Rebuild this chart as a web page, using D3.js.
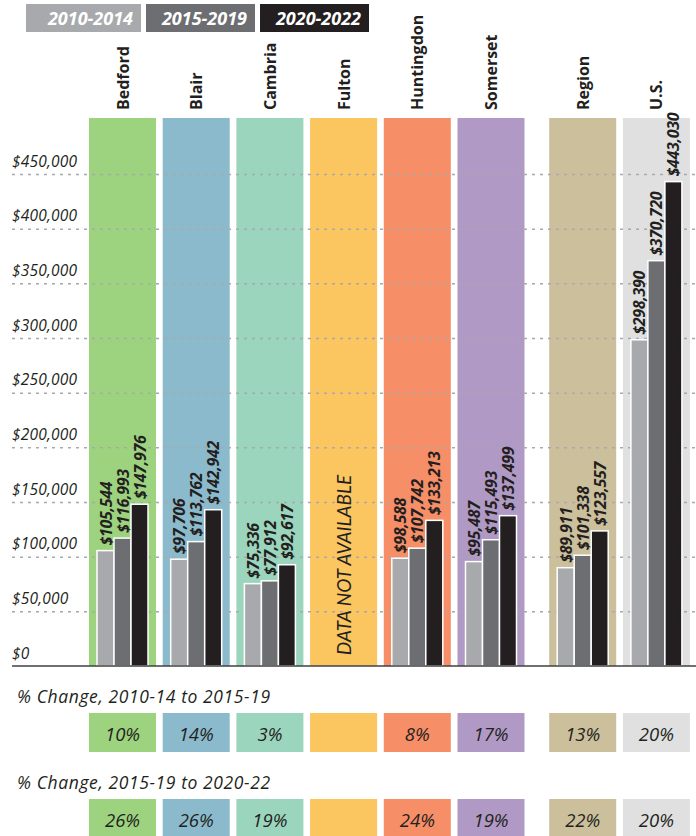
<!DOCTYPE html>
<html>
<head>
<meta charset="utf-8">
<script src="https://cdn.jsdelivr.net/npm/d3@7"></script>
<style>
  body { margin: 0; background: #fff; }
  svg { display: block; }
  .tick line { stroke: #a7a9ac; stroke-width: 1.5; stroke-dasharray: 3,5; }
  .tick text { font-family: 'Open Sans', sans-serif; font-style: italic; font-size: 15.5px; letter-spacing: 0.2px; fill: #231f20; }
</style>
</head>
<body>
<svg id="chart" width="696" height="836"></svg>
<script>
const categories = ['Bedford', 'Blair', 'Cambria', 'Fulton', 'Huntingdon', 'Somerset', 'Region', 'U.S.']
const groups = ['county', 'county', 'county', 'county', 'county', 'county', 'summary', 'summary']
const periods = ['2010-2014', '2015-2019', '2020-2022']
const values2010 = [105544, 97706, 75336, null, 98588, 95487, 89911, 298390]
const values2015 = [116993, 113762, 77912, null, 107742, 115493, 101338, 370720]
const values2020 = [147976, 142942, 92617, null, 133213, 137499, 123557, 443030]
const change1 = ['10%', '14%', '3%', '', '8%', '17%', '13%', '20%']
const change2 = ['26%', '26%', '19%', '', '24%', '19%', '22%', '20%']
const changeTitles = ['% Change, 2010-14 to 2015-19', '% Change, 2015-19 to 2020-22']
const yTicks = [0, 50000, 100000, 150000, 200000, 250000, 300000, 350000, 400000, 450000]

const columnColors = ['#9dd27f', '#8bbacd', '#9bd5bd', '#fbc560', '#f68e67', '#b099c5', '#cbbf9c', '#dfe0df']
const periodColors = ['#a7a9ac', '#6d6e71', '#231f20']

const svg = d3.select('#chart')
const fmt = d3.format(',')

// columns: six counties, then a wider gap before region / U.S.
const x = d3.scaleBand().domain(categories).range([89, 89 + 7 * 73.7 + 67]).paddingInner(6.7 / 73.7).paddingOuter(0)
const groupGap = 18
function colX(c) {
  return x(c) + (groups[categories.indexOf(c)] === 'summary' ? groupGap : 0)
}
const inner = d3.scaleBand().domain(periods).range([8, x.bandwidth() - 8])
const y = d3.scaleLinear().domain([0, 450000]).range([666, 174])

const colTop = 118

// legend
const legendX = [26, 146, 260]
const legendW = [115, 109, 109]
const legend = svg.append('g')
  .selectAll('g')
  .data(periods)
  .enter()
  .append('g')
legend.append('rect')
  .attr('x', (d, i) => legendX[i])
  .attr('y', 4)
  .attr('width', (d, i) => legendW[i])
  .attr('height', 28)
  .attr('fill', (d, i) => periodColors[i])
legend.append('text')
  .attr('x', (d, i) => legendX[i] + legendW[i] - 8)
  .attr('y', 24.5)
  .attr('text-anchor', 'end')
  .attr('fill', '#fff')
  .style('font-family', 'Open Sans, sans-serif')
  .style('font-weight', 700)
  .style('font-style', 'italic')
  .style('font-size', '18px')
  .text(d => d)

// column backgrounds
svg.append('g')
  .selectAll('rect')
  .data(categories)
  .enter()
  .append('rect')
  .attr('x', d => colX(d))
  .attr('y', colTop)
  .attr('width', x.bandwidth())
  .attr('height', y(0) - colTop)
  .attr('fill', (d, i) => columnColors[i])

// category names
svg.append('g')
  .selectAll('text')
  .data(categories)
  .enter()
  .append('text')
  .attr('transform', d => `translate(${colX(d) + x.bandwidth() / 2 + 6},110) rotate(-90)`)
  .attr('text-anchor', 'start')
  .attr('fill', '#231f20')
  .style('font-family', 'Open Sans, sans-serif')
  .style('font-weight', 700)
  .style('font-size', '16px')
  .text(d => d)

// grid + y labels
const axis = svg.append('g')
  .attr('transform', 'translate(12,0)')
  .call(d3.axisRight(y).tickValues(yTicks).tickSize(684).tickFormat(d => '$' + fmt(d)))
axis.select('.domain').remove()
axis.selectAll('.tick text')
  .attr('x', 0)
  .attr('dy', -8)
  .attr('text-anchor', 'start')
axis.selectAll('.tick').filter(d => d === 0).select('line').remove()

// bars
const series = [values2010, values2015, values2020]
const barData = []
categories.forEach((c, ci) => {
  periods.forEach((p, pi) => {
    if (series[pi][ci] != null) barData.push({ cat: c, period: p, pi: pi, value: series[pi][ci] })
  })
})

svg.append('g')
  .selectAll('rect')
  .data(barData)
  .enter()
  .append('rect')
  .attr('x', d => colX(d.cat) + inner(d.period))
  .attr('y', d => y(d.value))
  .attr('width', inner.bandwidth())
  .attr('height', d => y(0) - y(d.value))
  .attr('fill', d => periodColors[d.pi])
  .attr('stroke', '#fff')
  .attr('stroke-width', 1.5)

svg.append('g')
  .selectAll('text')
  .data(barData)
  .enter()
  .append('text')
  .attr('transform', d => `translate(${colX(d.cat) + inner(d.period) + inner.bandwidth() / 2 + 6},${y(d.value) - 5}) rotate(-90)`)
  .attr('fill', '#231f20')
  .style('font-family', 'Open Sans, sans-serif')
  .style('font-weight', 700)
  .style('font-style', 'italic')
  .style('font-size', '16px')
  .style('letter-spacing', '-0.3px')
  .text(d => '$' + fmt(d.value))

// missing data note
categories.forEach((c, ci) => {
  if (values2020[ci] == null) {
    svg.append('text')
      .attr('transform', `translate(${colX(c) + x.bandwidth() / 2 + 7},565) rotate(-90)`)
      .attr('text-anchor', 'middle')
      .attr('fill', '#231f20')
      .style('font-family', 'Lato, sans-serif')
      .style('font-style', 'italic')
      .style('font-size', '19px')
      .text('DATA NOT AVAILABLE')
  }
})

// baseline
svg.append('line')
  .attr('x1', 12).attr('x2', 696)
  .attr('y1', y(0)).attr('y2', y(0))
  .attr('stroke', '#414042')
  .attr('stroke-width', 1.5)

// percent change rows
const rows = [change1, change2]
const rowTop = [713, 799]
rows.forEach((row, ri) => {
  svg.append('text')
    .attr('x', 17)
    .attr('y', rowTop[ri] - 10)
    .attr('fill', '#231f20')
    .style('font-family', 'Open Sans, sans-serif')
    .style('font-style', 'italic')
    .style('font-size', '17.5px')
    .style('letter-spacing', '0.6px')
    .text(changeTitles[ri])

  const g = svg.append('g')
    .selectAll('g')
    .data(categories)
    .enter()
    .append('g')
  g.append('rect')
    .attr('x', d => colX(d))
    .attr('y', rowTop[ri])
    .attr('width', x.bandwidth())
    .attr('height', 39)
    .attr('fill', (d, i) => columnColors[i])
  g.append('text')
    .attr('x', d => colX(d) + x.bandwidth() / 2)
    .attr('y', rowTop[ri] + 28)
    .attr('text-anchor', 'middle')
    .attr('fill', '#231f20')
    .style('font-family', 'Open Sans, sans-serif')
    .style('font-style', 'italic')
    .style('font-size', '18.5px')
    .text((d, i) => row[i])
})
</script>
</body>
</html>
